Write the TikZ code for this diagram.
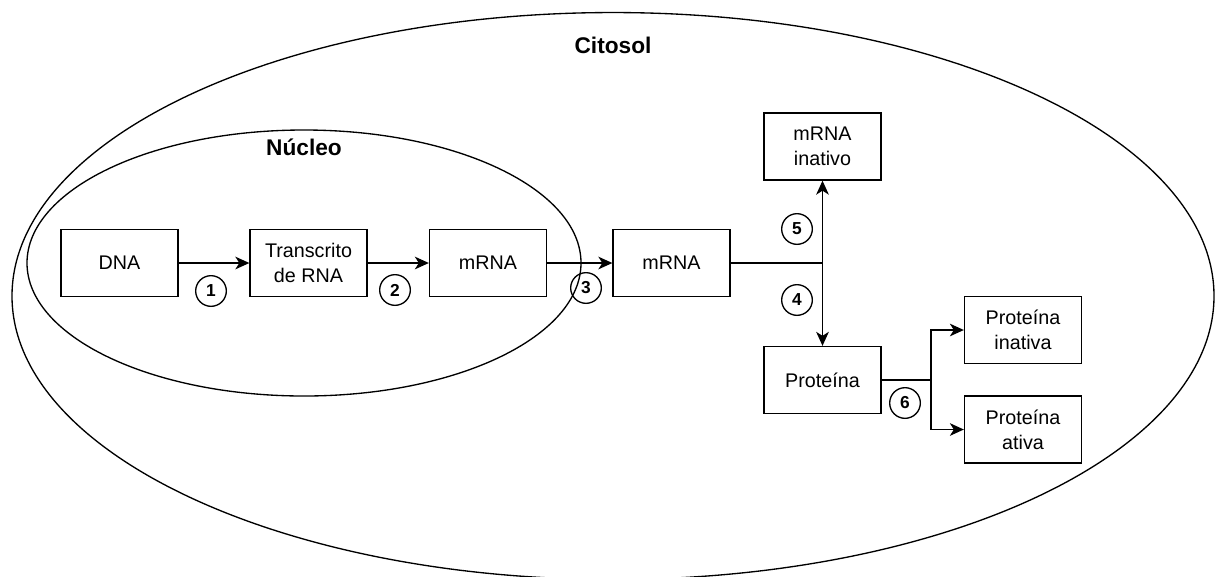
\documentclass[tikz,border=0pt]{standalone}
\usepackage{fontspec}
\setmainfont{Liberation Sans}
\usetikzlibrary{arrows.meta}

\tikzset{
  stepbox/.style={draw, line width=1pt, minimum width=87.75pt, minimum height=50.25pt,
    inner sep=0pt, align=center, font=\fontsize{14.8pt}{18.75pt}\selectfont},
  numbadge/.style={draw, circle, line width=1pt, minimum size=23pt, inner sep=0pt,
    font=\fontsize{13pt}{15pt}\selectfont\bfseries},
  region/.style={line width=1pt},
  regionlabel/.style={anchor=base, inner sep=0pt, font=\fontsize{17pt}{20pt}\selectfont\bfseries},
  flow/.style={line width=1pt, -{Stealth[length=10.5pt, width=9.5pt, inset=3pt]}},
  plain/.style={line width=1pt}
}

\begin{document}
\begin{tikzpicture}[x=0.75pt, y=-0.75pt]
  \useasboundingbox (0,0) rectangle (1216,576);
  \clip (0,0) rectangle (1216,576);

  % compartments
  \draw[region] (613,296) ellipse [x radius=450.75pt, y radius=212.6pt];
  \draw[region] (304,263) ellipse [x radius=207.75pt, y radius=99.75pt];
  \node[regionlabel] (citosol) at (613,53) {Citosol};
  \node[regionlabel] (nucleo) at (304,155) {Núcleo};

  % steps
  \node[stepbox] (dna)   at (119.5,263) {DNA};
  \node[stepbox] (trans) at (308.5,263) {Transcrito\\de RNA};
  \node[stepbox] (mrnaA) at (488,263)   {mRNA};
  \node[stepbox] (mrnaB) at (671.5,263) {mRNA};
  \node[stepbox] (mrnaI) at (822.5,146.5) {mRNA\\inativo};
  \node[stepbox] (prot)  at (822.5,380) {Proteína};
  \node[stepbox] (protI) at (1023,330)  {Proteína\\inativa};
  \node[stepbox] (protA) at (1023,429.5) {Proteína\\ativa};

  % branching points
  \coordinate (fork1) at (mrnaI.south |- mrnaB.east);
  \coordinate (fork2) at (931,380);

  % connectors
  \draw[flow] (dna) -- (trans);
  \draw[flow] (trans) -- (mrnaA);
  \draw[flow] (mrnaA) -- (mrnaB);
  \draw[plain] (mrnaB.east) -- (fork1);
  \draw[flow] (fork1) -- (mrnaI.south);
  \draw[flow] (fork1) -- (prot.north);
  \draw[plain] (prot.east) -- (fork2);
  \draw[flow] (fork2) |- (protI.west);
  \draw[flow] (fork2) |- (protA.west);

  % step numbers
  \node[numbadge] (n1) at (211,291) {1};
  \node[numbadge] (n2) at (395,290) {2};
  \node[numbadge] (n3) at (586,288) {3};
  \node[numbadge] (n4) at (797,300) {4};
  \node[numbadge] (n5) at (797,229) {5};
  \node[numbadge] (n6) at (905,403) {6};
\end{tikzpicture}
\end{document}
